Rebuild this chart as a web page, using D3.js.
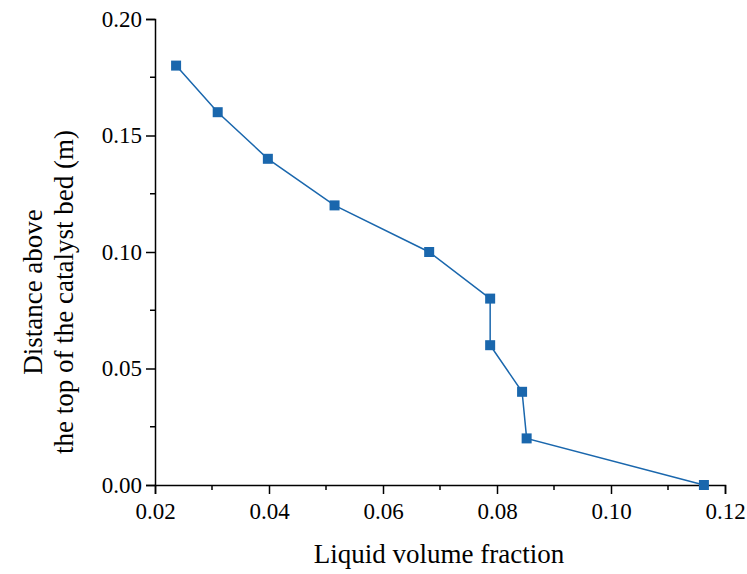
<!DOCTYPE html>
<html><head><meta charset="utf-8">
<script src="https://cdn.jsdelivr.net/npm/d3@7"></script>
<style>body{margin:0;background:#fff}svg{display:block}svg text{font-family:"Liberation Serif","Times New Roman",serif !important;fill:#000}</style>
</head><body><svg id="c" width="747" height="574"></svg>
<script>
const liquidFraction = [0.0237, 0.0310, 0.0398, 0.0515, 0.0681, 0.0788, 0.0788, 0.0844, 0.0852, 0.1163];
const distance = [0.18, 0.16, 0.14, 0.12, 0.10, 0.08, 0.06, 0.04, 0.02, 0.00];
const xTicks = [0.02, 0.04, 0.06, 0.08, 0.10, 0.12];
const yTicks = [0.00, 0.05, 0.10, 0.15, 0.20];
const xMinor = [0.03, 0.05, 0.07, 0.09, 0.11];
const yMinor = [0.025, 0.075, 0.125, 0.175];
const color = "#1a67ad";

const svg = d3.select("#c");
const x = d3.scaleLinear().domain([0.02, 0.12]).range([155, 725]);
const y = d3.scaleLinear().domain([0, 0.20]).range([485, 19]);

const gx = svg.append("g").attr("transform", "translate(0,485)")
  .call(d3.axisBottom(x).tickValues(xTicks).tickFormat(d3.format(".2f")).tickSize(9).tickPadding(9));
gx.append("g").selectAll("line").data(xMinor).join("line")
  .attr("x1", d => x(d)).attr("x2", d => x(d)).attr("y1", 0).attr("y2", 5).attr("stroke", "#000").attr("stroke-width", 1.5);
const gy = svg.append("g").attr("transform", "translate(155,0)")
  .call(d3.axisLeft(y).tickValues(yTicks).tickFormat(d3.format(".2f")).tickSize(9).tickPadding(4));
gy.append("g").selectAll("line").data(yMinor).join("line")
  .attr("y1", d => y(d)).attr("y2", d => y(d)).attr("x1", 0).attr("x2", -5).attr("stroke", "#000").attr("stroke-width", 1.5);
[gx, gy].forEach(g => {
  g.attr("font-family", '"Liberation Serif",serif').attr("font-size", 23);
  g.select(".domain").attr("stroke", "#000").attr("stroke-width", 1.5);
  g.selectAll(".tick line").attr("stroke", "#000").attr("stroke-width", 1.5);
  g.selectAll(".tick text").attr("fill", "#000");
});

const pts = liquidFraction.map((v, i) => [v, distance[i]]);
svg.append("path").datum(pts)
  .attr("fill", "none").attr("stroke", color).attr("stroke-width", 1.5)
  .attr("d", d3.line().x(d => x(d[0])).y(d => y(d[1])));
svg.append("g").selectAll("rect").data(pts).join("rect")
  .attr("x", d => x(d[0]) - 5).attr("y", d => y(d[1]) - 5)
  .attr("width", 10).attr("height", 10).attr("fill", color);

svg.append("text").attr("x", 439).attr("y", 563).attr("text-anchor", "middle")
  .attr("font-size", 27).text("Liquid volume fraction");
const yt = svg.append("text").attr("transform", "translate(0,292) rotate(-90)").attr("text-anchor", "middle").attr("font-size", 27);
yt.append("tspan").attr("x", 0).attr("y", 42).text("Distance above");
yt.append("tspan").attr("x", 0).attr("y", 73).text("the top of the catalyst bed (m)");
</script></body></html>
